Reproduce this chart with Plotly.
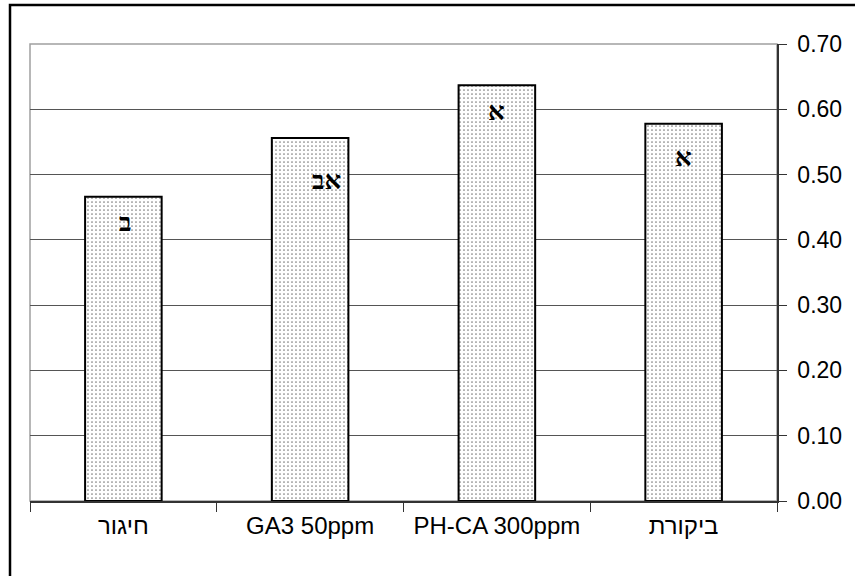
import plotly.graph_objects as go

categories = ["חיגור", "GA3 50ppm", "PH-CA 300ppm", "ביקורת"]
values = [0.466, 0.556, 0.637, 0.578]
letters = ["ב", "אב", "א", "א"]

# label pixel offsets (styling only)
label_yshift = [-26, -42, -26, -34]
label_xshift = [2, 16, 0, 0]

W, H = 855, 576
L, R, T, B = 30, 78, 44, 75
pw, ph = W - L - R, H - T - B

fig = go.Figure()
fig.add_trace(go.Bar(
    x=categories, y=values,
    width=0.41,
    marker=dict(
        color="white",
        line=dict(color="black", width=2),
        pattern=dict(shape=".", fgcolor="black", bgcolor="white", size=4, solidity=0.15),
    ),
    hoverinfo="skip",
))

for c, v, t, ys, xs in zip(categories, values, letters, label_yshift, label_xshift):
    fig.add_annotation(x=c, y=v, text="<b>" + t + "</b>", showarrow=False, yshift=ys, xshift=xs,
                       font=dict(family="Liberation Serif, DejaVu Serif, serif", size=26, color="black"))

# plot-area frame (gray, left/top) and outer chart border
fig.add_shape(type="rect", xref="paper", yref="paper", x0=0, x1=1, y0=0, y1=1,
              line=dict(color="#a0a0a0", width=1.5), layer="below")
fig.add_shape(type="rect", xref="paper", yref="paper",
              x0=(10 - L) / pw, x1=(W + 20 - L) / pw,
              y0=-(H + 20 - T - ph) / ph, y1=(T + ph - 5) / ph,
              line=dict(color="black", width=2.5))

fig.update_layout(
    width=W, height=H,
    margin=dict(l=L, r=R, t=T, b=B, pad=0),
    paper_bgcolor="white", plot_bgcolor="white",
    showlegend=False,
    bargap=0.59,
    font=dict(family="Liberation Sans, Arial, sans-serif", size=22, color="black"),
    xaxis=dict(
        type="category", tickson="boundaries", ticks="outside", ticklen=9,
        tickcolor="#333", showline=True, linecolor="#333", linewidth=1.5,
        showgrid=False, tickfont=dict(size=24), ticklabelstandoff=2,
    ),
    yaxis=dict(
        side="right", range=[0, 0.7], dtick=0.1, tickformat=".2f",
        ticks="outside", ticklen=8, tickcolor="#333",
        showline=True, linecolor="#333", linewidth=1.5,
        showgrid=True, gridcolor="#555", gridwidth=1,
        zeroline=False, tickfont=dict(size=23), ticklabelstandoff=6,
    ),
)

fig.write_html("out.html", config={"displayModeBar": False},
               post_script="document.body.style.margin='0';document.body.style.padding='0';")
